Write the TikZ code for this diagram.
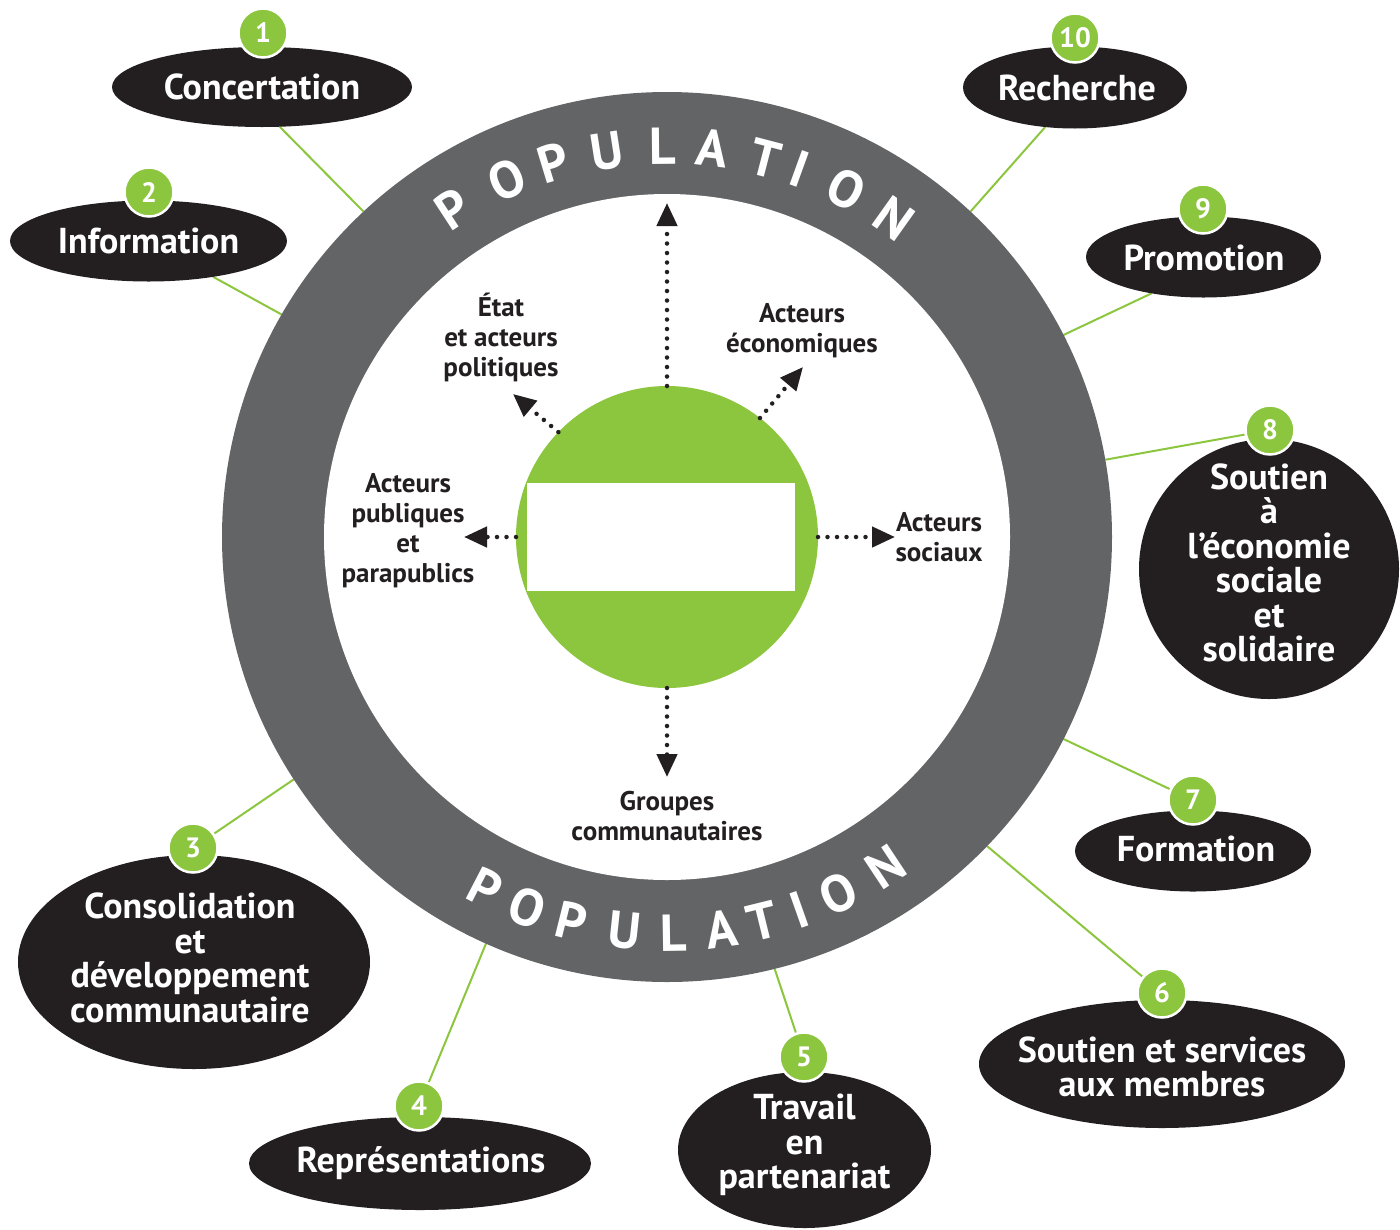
\documentclass[tikz,border=0pt]{standalone}
\usepackage{fontspec}
\setmainfont{PT Sans}
\newfontfamily\labfont{PT Sans}
\newfontfamily\popfont{PT Sans}
\usetikzlibrary{arrows.meta,backgrounds,shapes.geometric}
\definecolor{ringgray}{HTML}{636466}
\definecolor{nodeblack}{HTML}{231F20}
\definecolor{leaf}{HTML}{8CC63F}
\tikzset{
  blob/.style={ellipse, fill=nodeblack, inner sep=0pt, outer sep=0pt},
  blobtext/.style={text=white, font=\labfont\bfseries\fontsize{36}{34.5}\selectfont, align=center, inner sep=0pt},
  badge/.style={circle, fill=leaf, draw=white, line width=2.5pt, minimum size=49pt, inner sep=0pt, text=white, font=\labfont\bfseries\fontsize{28}{28}\selectfont},
  link/.style={draw=leaf, line width=2pt},
  actor/.style={font=\labfont\bfseries\fontsize{27}{30}\selectfont, text=nodeblack, align=center, inner sep=0pt},
  flow/.style={draw=nodeblack, line width=4.5pt, dash pattern=on 0pt off 9.5pt, line cap=round, -{Triangle[length=23pt,width=20pt]}},
  popl/.style={text=white, font=\popfont\bfseries\fontsize{52}{52}\selectfont, inner sep=0pt, anchor=base},
}
\begin{document}
\begin{tikzpicture}[x=1pt,y=1pt]
\useasboundingbox (0,0) rectangle (1400,-1229);
% ring
\node[circle, fill=ringgray, minimum size=890pt, inner sep=0pt, outer sep=0pt] (ring) at (667,-537) {};
\node[circle, fill=white, minimum size=686pt, inner sep=0pt, outer sep=0pt] (inner) at (667,-537) {};
% POPULATION letters
\foreach \ch/\ang [count=\i] in {P/123.1, O/114.2, P/106.9, U/98.9, L/90.6, A/83.3, T/75.4, I/70.1, O/62.8, N/54.6}
  \node[popl, rotate=\ang-90] (popT\i) at ([shift={(\ang:373pt)}]667,-537) {\ch};
\foreach \ch/\ang [count=\i] in {P/-117.4, O/-110.7, P/-104, U/-96.1, L/-89.1, A/-82.1, T/-76.1, I/-70.5, O/-64.4, N/-56.5}
  \node[popl, rotate=\ang+90] (popB\i) at ([shift={(\ang:414pt)}]667,-537) {\ch};
% core
\node[circle, fill=leaf, minimum size=302pt, inner sep=0pt, outer sep=0pt] (core) at (667,-537) {};
\node[rectangle, fill=white, minimum width=268pt, minimum height=108pt, inner sep=0pt] (box) at (661,-537) {};
% arrows
\coordinate (tipN) at (667,-203);
\coordinate (tipS) at (667,-777);
\coordinate (tipW) at (464,-537);
\coordinate (tipE) at (895,-537);
\coordinate (tipNW) at (513,-394);
\coordinate (tipNE) at (803,-367);
\draw[flow] (core.north) -- (tipN);
\draw[flow] (core.south) -- (tipS);
\draw[flow] (core.west) -- (tipW);
\draw[flow] (core.east) -- (tipE);
\draw[flow] (core.136.6) -- (tipNW);
\draw[flow] (core.52) -- (tipNE);
% actor labels
\node[actor] (etat) at (501,-337) {État\\et acteurs\\politiques};
\node[actor] (eco) at (802,-331) {Acteurs\\économiques};
\node[actor] (pub) at (408,-531) {Acteurs\\publiques\\et\\parapublics};
\node[actor] (soc) at (939,-537) {Acteurs\\sociaux};
\node[actor] (grp) at (667,-816) {Groupes\\communautaires};
% outer nodes
\node[blob, minimum width=300pt, minimum height=80pt] (e1) at (262,-87) {};
\node[blobtext] (t1) at (262,-87) {Concertation};
\node[badge] (b1) at (263,-33) {1};
\node[blob, minimum width=277pt, minimum height=81pt] (e2) at (148.5,-241) {};
\node[blobtext] (t2) at (148.5,-241) {Information};
\node[badge] (b2) at (149,-192) {2};
\node[blob, minimum width=352pt, minimum height=214pt] (e3) at (194,-962) {};
\node[blobtext] (t3) at (190,-958) {Consolidation\\et\\développement\\communautaire};
\node[badge] (b3) at (193,-848) {3};
\node[blob, minimum width=342pt, minimum height=93pt] (e4) at (420,-1163.5) {};
\node[blobtext] (t4) at (421,-1163) {Représentations};
\node[badge] (b4) at (419,-1106) {4};
\node[blob, minimum width=253pt, minimum height=156pt] (e5) at (804.5,-1150) {};
\node[blobtext] (t5) at (804.5,-1145) {Travail\\en\\partenariat};
\node[badge] (b5) at (804,-1057) {5};
\node[blob, minimum width=366pt, minimum height=128pt] (e6) at (1162,-1064) {};
\node[blobtext] (t6) at (1162,-1067) {Soutien et services\\aux membres};
\node[badge] (b6) at (1162,-993) {6};
\node[blob, minimum width=236pt, minimum height=81pt] (e7) at (1193,-851) {};
\node[blobtext] (t7) at (1196,-849) {Formation};
\node[badge] (b7) at (1193,-800) {7};
\node[blob, minimum width=260pt, minimum height=260pt] (e8) at (1269,-569) {};
\node[blobtext] (t8) at (1269,-563) {Soutien\\à\\l’économie\\sociale\\et\\solidaire};
\node[badge] (b8) at (1270,-430) {8};
\node[blob, minimum width=235pt, minimum height=81pt] (e9) at (1203.5,-257) {};
\node[blobtext] (t9) at (1204,-258) {Promotion};
\node[badge] (b9) at (1203,-209) {9};
\node[blob, minimum width=224pt, minimum height=82pt] (e10) at (1075,-87.5) {};
\node[blobtext] (t10) at (1077,-88) {Recherche};
\node[badge] (b10) at (1075,-38) {10};
% connectors
\begin{pgfonlayer}{background}
\draw[link] (e1.-66.4) -- (ring.133.6);
\draw[link] (e2.-29) -- (ring.150.2);
\draw[link] (b3) -- (ring.213.5);
\draw[link] (b4) -- (ring.246.8);
\draw[link] (b5) -- (ring.284.7);
\draw[link] (b6) -- (ring.316.8);
\draw[link] (b7) -- (ring.333.6);
\draw[link] (b8) -- (ring.10.6);
\draw[link] (e9.-145.6) -- (ring.27);
\draw[link] (e10.233.3) -- (ring.47.5);
\end{pgfonlayer}
\end{tikzpicture}
\end{document}
